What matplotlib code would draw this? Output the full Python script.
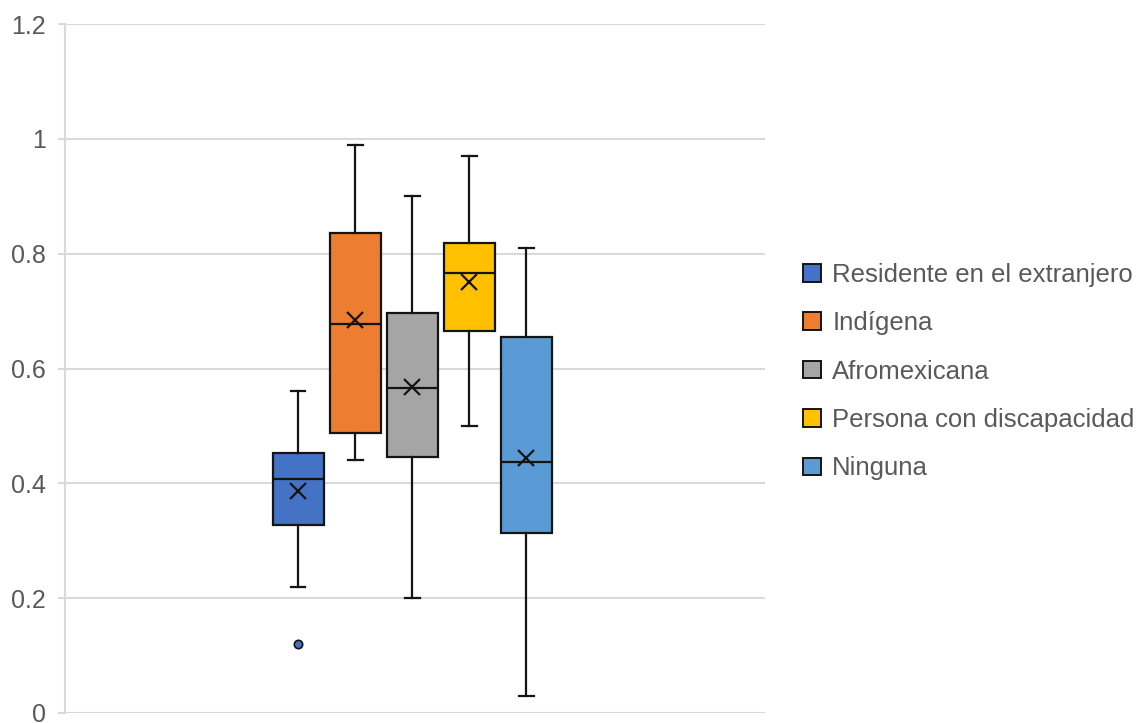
import matplotlib.pyplot as plt
from matplotlib.patches import Patch

plt.rcParams['font.family'] = ['Liberation Sans', 'DejaVu Sans']

# Box statistics per group
groups = ['Residente en el extranjero', 'Indígena', 'Afromexicana',
          'Persona con discapacidad', 'Ninguna']
whisker_low = [0.22, 0.44, 0.20, 0.50, 0.03]
q1 = [0.328, 0.488, 0.446, 0.665, 0.314]
median = [0.408, 0.678, 0.566, 0.767, 0.437]
q3 = [0.453, 0.836, 0.697, 0.819, 0.655]
whisker_high = [0.56, 0.99, 0.90, 0.97, 0.81]
mean = [0.387, 0.685, 0.568, 0.751, 0.444]
outliers = [[0.12], [], [], [], []]
colors = ['#4472C4', '#ED7D31', '#A5A5A5', '#FFC000', '#5B9BD5']

stats = []
for i, name in enumerate(groups):
    stats.append({'label': name, 'whislo': whisker_low[i], 'q1': q1[i],
                  'med': median[i], 'q3': q3[i], 'whishi': whisker_high[i],
                  'mean': mean[i], 'fliers': outliers[i]})

fig = plt.figure(figsize=(11.46, 7.23), dpi=100)
ax = fig.add_axes([65 / 1146, 10 / 723, 700 / 1146, 689 / 723])

positions = [0.333 + i * 0.0815 for i in range(len(groups))]
edge = '#141414'
for i in range(len(groups)):
    ax.bxp([stats[i]], positions=[positions[i]], widths=0.073,
           patch_artist=True, showmeans=True, capwidths=0.021,
           boxprops=dict(facecolor=colors[i], edgecolor=edge, linewidth=1.6),
           medianprops=dict(color=edge, linewidth=1.6, zorder=4),
           whiskerprops=dict(color=edge, linewidth=1.6),
           capprops=dict(color=edge, linewidth=1.6),
           meanprops=dict(marker='x', markeredgecolor=edge, markersize=12,
                          markeredgewidth=1.6, zorder=5),
           flierprops=dict(marker='o', markerfacecolor=colors[i],
                           markeredgecolor=edge, markersize=6,
                           markeredgewidth=1.2))

ax.set_xlim(0, 1)
ax.set_ylim(0, 1.2)
ax.set_yticks([0, 0.2, 0.4, 0.6, 0.8, 1.0, 1.2])
ax.set_yticklabels(['0', '0.2', '0.4', '0.6', '0.8', '1', '1.2'])
ax.set_xticks([])
ax.grid(axis='y', color='#d9d9d9', linewidth=1.5)
ax.set_axisbelow(True)
for s in ['top', 'right', 'bottom']:
    ax.spines[s].set_visible(False)
ax.spines['left'].set_color('#d9d9d9')
ax.spines['left'].set_linewidth(1.5)
ax.tick_params(axis='y', colors='#d9d9d9', length=5, width=1.5,
               labelcolor='#595959', labelsize=18, pad=9)

handles = [Patch(facecolor=c, edgecolor=edge, linewidth=1.4, label=g)
           for c, g in zip(colors, groups)]
fig.legend(handles=handles, loc='center left', bbox_to_anchor=(793 / 1146, 0.486),
           frameon=False, fontsize=18.5, labelcolor='#595959',
           handlelength=0.68, handleheight=0.68, handletextpad=0.45,
           labelspacing=0.95, borderaxespad=0)

fig.savefig('out.png', dpi=100)
